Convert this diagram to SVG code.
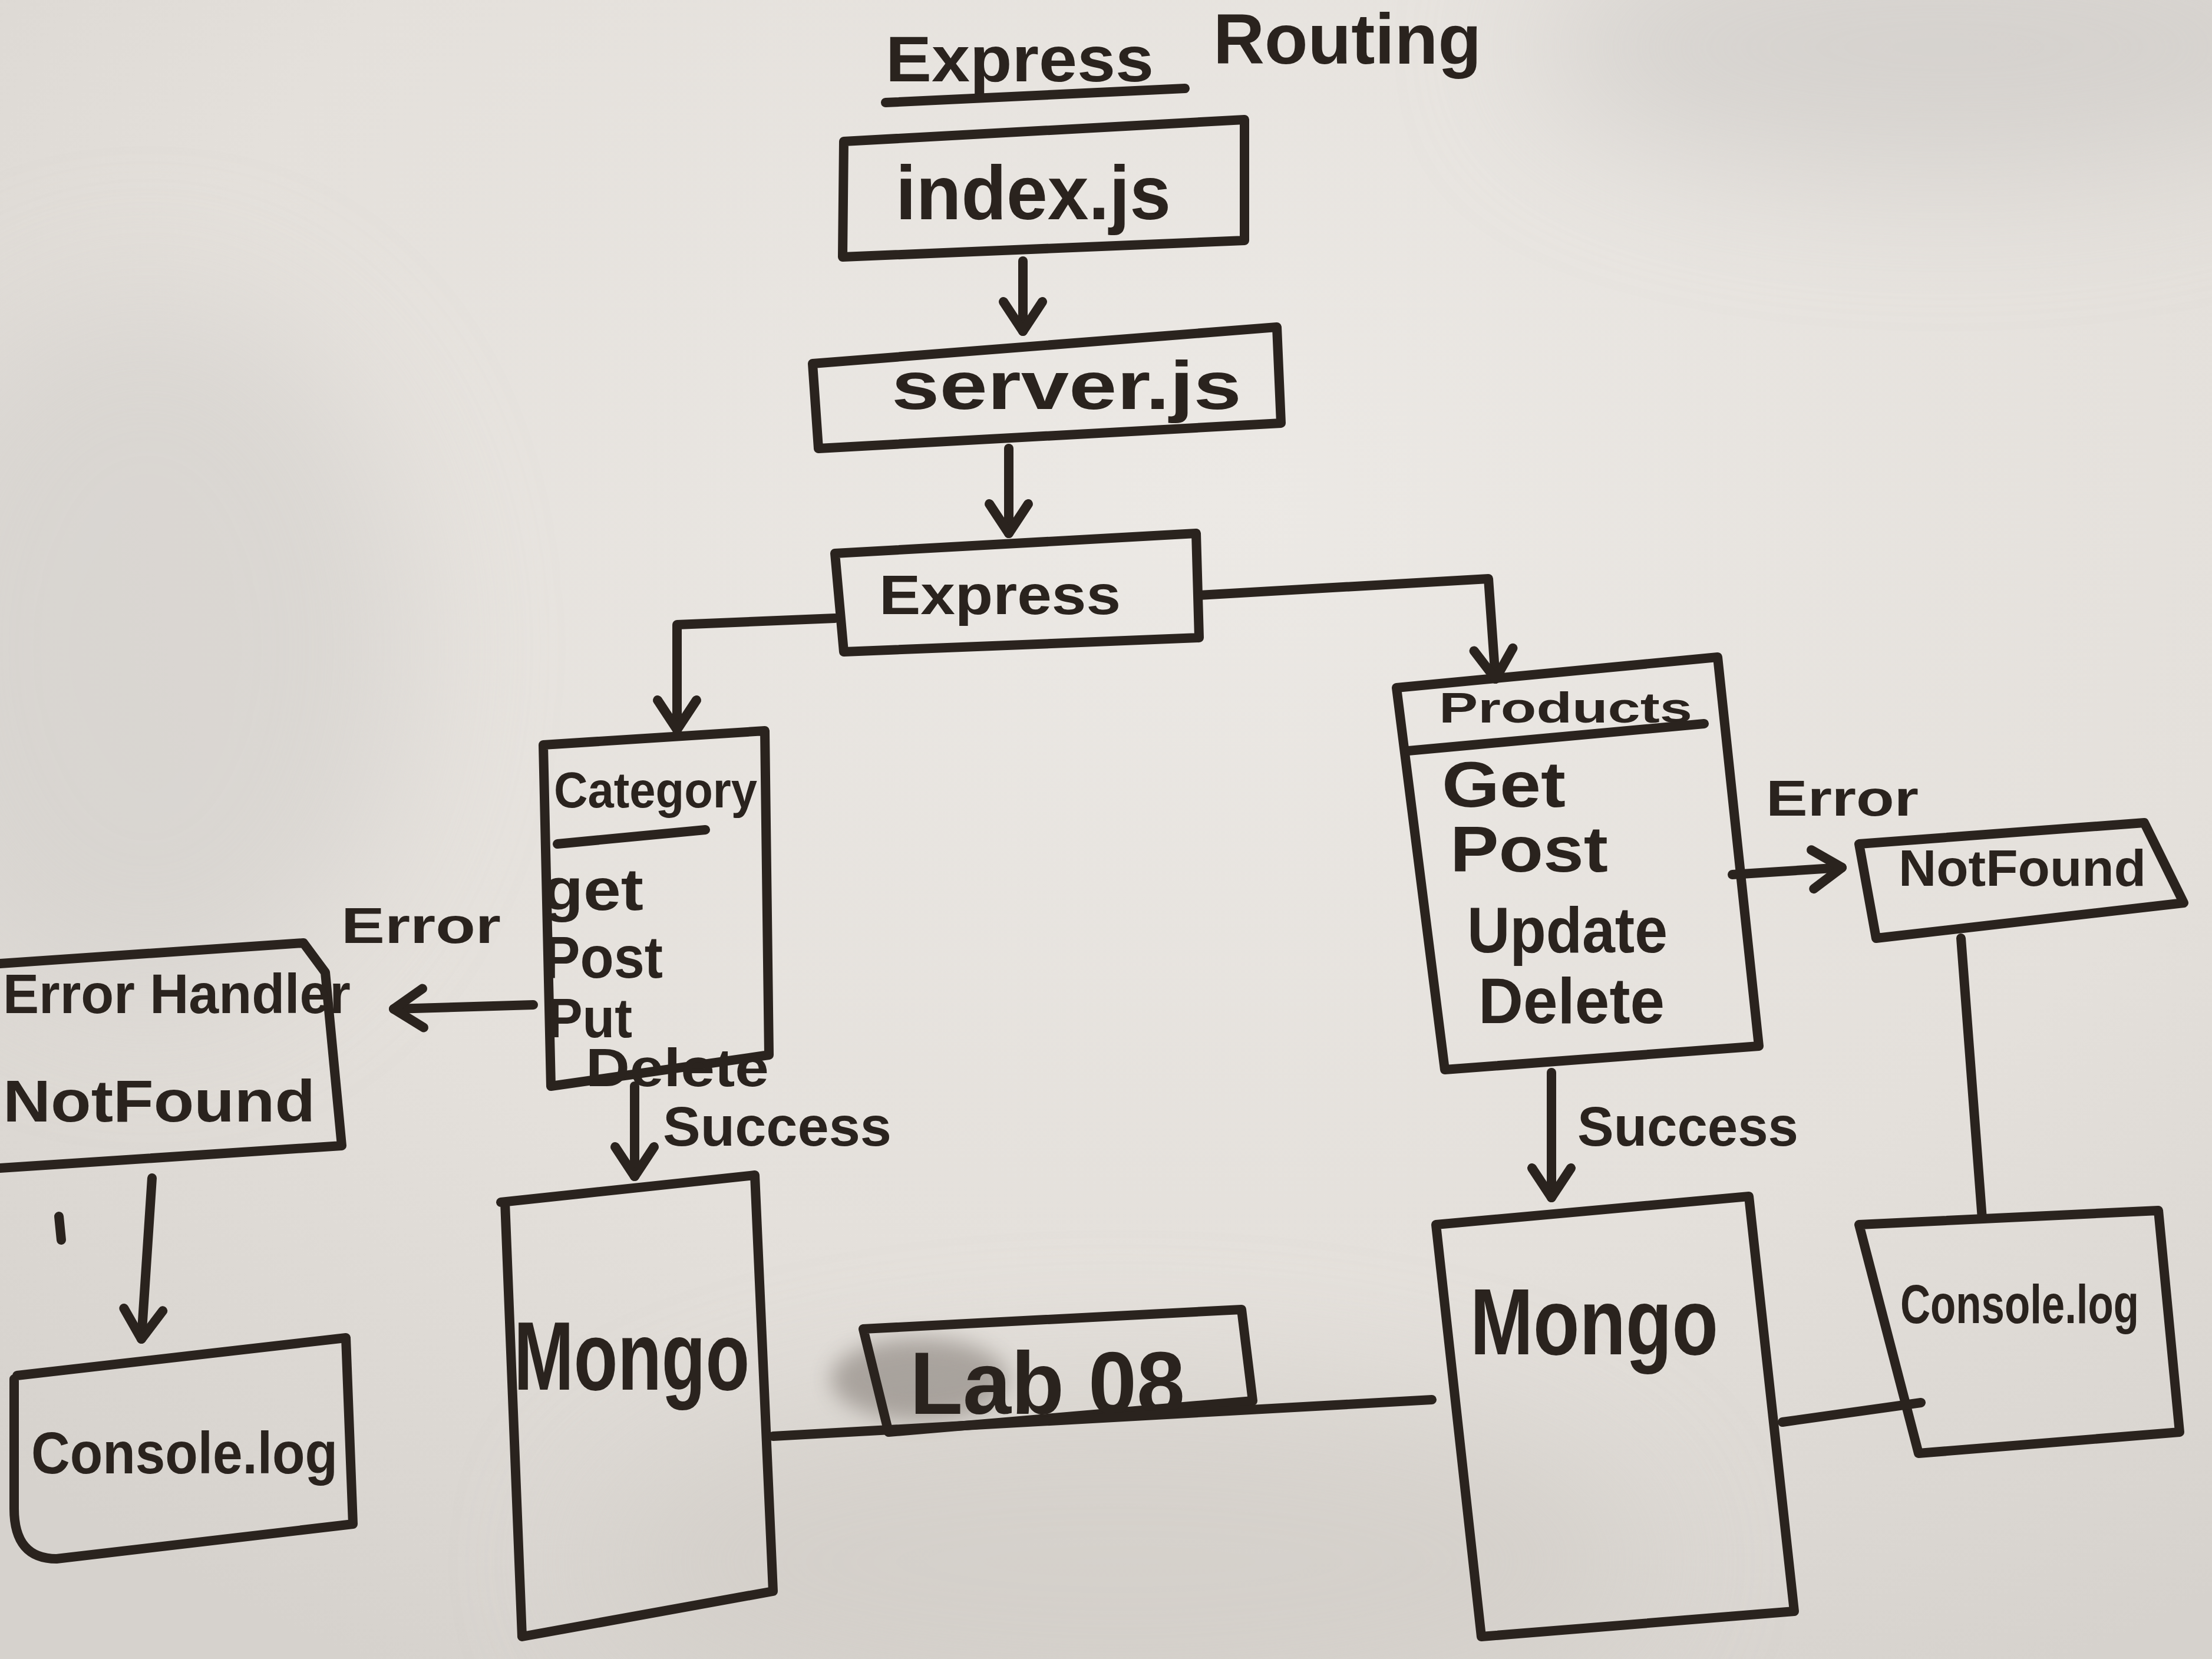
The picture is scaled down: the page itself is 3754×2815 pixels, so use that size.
<svg xmlns="http://www.w3.org/2000/svg" width="3754" height="2815" viewBox="0 0 3754 2815">
<defs>
<style>
.ink{fill:none;stroke:#2a231e;stroke-width:16;stroke-linecap:round;stroke-linejoin:round}
.txt{font-family:"Liberation Sans","DejaVu Sans",sans-serif;font-weight:700;fill:#2a231e}
</style>
<marker id="arr" markerUnits="userSpaceOnUse" viewBox="0 0 90 90" markerWidth="90" markerHeight="90" refX="70" refY="45" orient="auto">
<path d="M20,12 L70,45 L20,78" fill="none" stroke="#2a231e" stroke-width="16" stroke-linecap="round" stroke-linejoin="round"/>
</marker>
<radialGradient id="bg" cx="0.55" cy="0.3" r="0.8">
<stop offset="0" stop-color="#ece9e5"/>
<stop offset="0.6" stop-color="#e4e0db"/>
<stop offset="1" stop-color="#d6d2cd"/>
</radialGradient>
<filter id="blur" x="-50%" y="-50%" width="200%" height="200%"><feGaussianBlur stdDeviation="120"/></filter>
<filter id="smudge" x="-50%" y="-50%" width="200%" height="200%"><feGaussianBlur stdDeviation="18"/></filter>
</defs>
<rect x="0" y="0" width="3754" height="2815" fill="url(#bg)"/>
<g opacity="0.55" filter="url(#blur)">
<ellipse cx="3300" cy="80" rx="700" ry="220" fill="#c9c6c3"/>
<ellipse cx="250" cy="1100" rx="450" ry="600" fill="#d2cfcb"/>
<ellipse cx="1900" cy="2650" rx="900" ry="300" fill="#cfcac4"/>
</g>
<ellipse cx="1560" cy="2340" rx="150" ry="70" fill="#6a625b" opacity="0.45" filter="url(#smudge)"/>

<g id="title">
<text class="txt" x="1503" y="138" font-size="110" textLength="455" lengthAdjust="spacingAndGlyphs">Express</text>
<text class="txt" x="2059" y="108" font-size="120" textLength="455" lengthAdjust="spacingAndGlyphs">Routing</text>
<path class="ink" d="M1503,174 L2011,150"/>
</g>

<g id="index-js">
<path class="ink" d="M1432,240 L2112,203 L2112,408 L1430,436 Z"/>
<text class="txt" x="1520" y="372" font-size="130" textLength="467" lengthAdjust="spacingAndGlyphs">index.js</text>
</g>

<g id="server-js">
<path class="ink" d="M1379,617 L2167,555 L2174,718 L1389,761 Z"/>
<text class="txt" x="1513" y="694" font-size="115" textLength="594" lengthAdjust="spacingAndGlyphs">server.js</text>
</g>

<g id="express">
<path class="ink" d="M1417,939 L2030,905 L2035,1082 L1432,1106 Z"/>
<text class="txt" x="1492" y="1042" font-size="95" textLength="410" lengthAdjust="spacingAndGlyphs">Express</text>
</g>

<g id="category">
<path class="ink" d="M922,1264 L1298,1240 L1305,1790 L935,1843 Z"/>
<text class="txt" x="940" y="1370" font-size="85" textLength="345" lengthAdjust="spacingAndGlyphs">Category</text>
<path class="ink" d="M946,1432 L1197,1408"/>
<text class="txt" x="920" y="1544" font-size="100" textLength="172" lengthAdjust="spacingAndGlyphs">get</text>
<text class="txt" x="922" y="1659" font-size="100" textLength="203" lengthAdjust="spacingAndGlyphs">Post</text>
<text class="txt" x="929" y="1760" font-size="95" textLength="144" lengthAdjust="spacingAndGlyphs">Put</text>
<text class="txt" x="994" y="1843" font-size="90" textLength="311" lengthAdjust="spacingAndGlyphs">Delete</text>
</g>

<g id="products">
<path class="ink" d="M2370,1167 L2915,1115 L2985,1775 L2452,1815 Z"/>
<text class="txt" x="2442" y="1226" font-size="72" textLength="430" lengthAdjust="spacingAndGlyphs">Products</text>
<path class="ink" d="M2390,1274 L2892,1228"/>
<text class="txt" x="2447" y="1369" font-size="110" textLength="210" lengthAdjust="spacingAndGlyphs">Get</text>
<text class="txt" x="2461" y="1479" font-size="110" textLength="268" lengthAdjust="spacingAndGlyphs">Post</text>
<text class="txt" x="2490" y="1616" font-size="110" textLength="340" lengthAdjust="spacingAndGlyphs">Update</text>
<text class="txt" x="2509" y="1736" font-size="110" textLength="316" lengthAdjust="spacingAndGlyphs">Delete</text>
</g>

<g id="error-handler">
<path class="ink" d="M0,1635 L515,1600 L552,1650 L580,1944 L0,1982"/>
<text class="txt" x="5" y="1719" font-size="95" textLength="590" lengthAdjust="spacingAndGlyphs">Error Handler</text>
<text class="txt" x="5" y="1903" font-size="100" textLength="530" lengthAdjust="spacingAndGlyphs">NotFound</text>
</g>

<g id="console-left">
<path class="ink" d="M29,2334 L587,2270 L599,2586 L96,2645 Q24,2645 24,2560 L24,2340"/>
<text class="txt" x="53" y="2500" font-size="100" textLength="520" lengthAdjust="spacingAndGlyphs">Console.log</text>
</g>

<g id="mongo-left">
<path class="ink" d="M850,2040 L1281,1994 L1312,2700 L886,2777 L857,2040"/>
<text class="txt" x="872" y="2358" font-size="165" textLength="400" lengthAdjust="spacingAndGlyphs">Mongo</text>
</g>

<g id="lab08">
<path class="ink" d="M1465,2255 L2107,2222 L2126,2377 L1508,2430 Z"/>
<text class="txt" x="1544" y="2399" font-size="150" textLength="467" lengthAdjust="spacingAndGlyphs">Lab 08</text>
</g>

<g id="mongo-right">
<path class="ink" d="M2437,2078 L2968,2030 L3045,2734 L2514,2777 Z"/>
<text class="txt" x="2495" y="2298" font-size="160" textLength="421" lengthAdjust="spacingAndGlyphs">Mongo</text>
</g>

<g id="notfound-right">
<path class="ink" d="M3155,1432 L3639,1396 L3706,1532 L3184,1592 Z"/>
<text class="txt" x="3222" y="1503" font-size="88" textLength="420" lengthAdjust="spacingAndGlyphs">NotFound</text>
</g>

<g id="console-right">
<path class="ink" d="M3155,2078 L3663,2054 L3699,2430 L3256,2466 Z"/>
<text class="txt" x="3225" y="2245" font-size="92" textLength="405" lengthAdjust="spacingAndGlyphs">Console.log</text>
</g>

<g id="connectors">
<path class="ink" d="M1736,443 L1736,562" marker-end="url(#arr)"/>
<path class="ink" d="M1712,761 L1712,905" marker-end="url(#arr)"/>
<path class="ink" d="M1417,1049 L1149,1060 L1149,1238" marker-end="url(#arr)"/>
<path class="ink" d="M2035,1010 L2526,982 L2538,1152" marker-end="url(#arr)"/>
<path class="ink" d="M905,1705 L668,1712" marker-end="url(#arr)"/>
<path class="ink" d="M258,1999 L240,2272" marker-end="url(#arr)"/>
<path class="ink" d="M1077,1843 L1077,1996" marker-end="url(#arr)"/>
<path class="ink" d="M2633,1820 L2633,2032" marker-end="url(#arr)"/>
<path class="ink" d="M2940,1484 L3126,1472" marker-end="url(#arr)"/>
<path class="ink" d="M3328,1592 L3364,2068"/>
<path class="ink" d="M1312,2437 L2430,2375"/>
<path class="ink" d="M3025,2413 L3260,2380"/>
</g>

<g id="labels">
<text class="txt" x="579" y="1600" font-size="85" textLength="271" lengthAdjust="spacingAndGlyphs">Error</text>
<text class="txt" x="1125" y="1944" font-size="95" textLength="388" lengthAdjust="spacingAndGlyphs">Success</text>
<text class="txt" x="2677" y="1944" font-size="95" textLength="375" lengthAdjust="spacingAndGlyphs">Success</text>
<text class="txt" x="2997" y="1384" font-size="85" textLength="259" lengthAdjust="spacingAndGlyphs">Error</text>
</g>
<path class="ink" d="M100,2064 L104,2104"/>
</svg>
